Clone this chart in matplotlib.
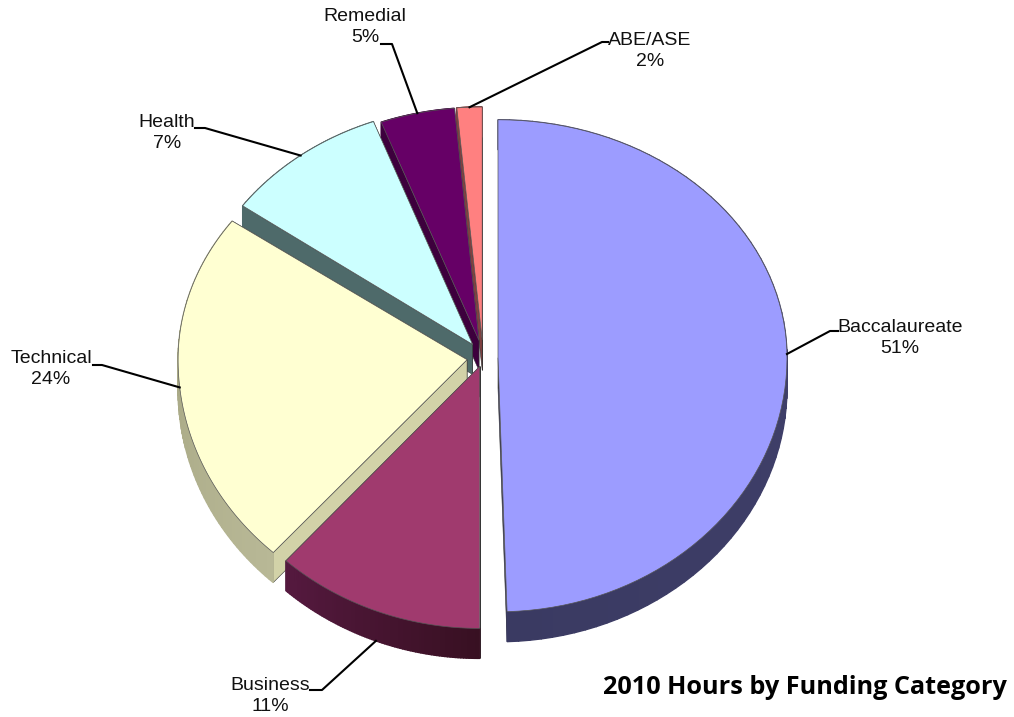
import numpy as np
import matplotlib
matplotlib.use("Agg")
import matplotlib.pyplot as plt

# Dati (fetta disegnata vs etichetta)
categories = ["Baccalaureate", "Business", "Technical", "Health", "Remedial", "ABE/ASE"]
drawn_share = [49.5, 12.2, 23.2, 9.4, 4.3, 1.4]
percent_labels = ["51%", "11%", "24%", "7%", "5%", "2%"]

# Stili
top_colors = ["#9c9cff", "#a03a6e", "#ffffd2", "#ccffff", "#660066", "#ff8080"]
cut_colors = ["#3c3c66", "#401028", "#d2d2a8", "#4e6a6a", "#3d003d", "#804040"]
wall_from = ["#444470", "#381022", "#b8b896", "#4e6a6a", "#3d003d", "#804040"]
wall_to = ["#3a3a62", "#55193f", "#a0a07c", "#4e6a6a", "#3d003d", "#804040"]
explode = [15, 9, 16, 17, 18, 18]
start_shift = [0, 1.8, 0, 0, 0, 0]

# Geometria del pie in pixel (la prospettiva cambia i raggi di ogni fetta)
cx, cy = 483, 358
rx = [289, 289, 289, 283, 279, 289]
r_up = [238, 238, 238, 238, 233, 233]
r_down = [254, 262, 260, 260, 260, 260]
depth = 30

# Posizione testo e gomito della linea guida
text_xy = [(900, 338), (270, 696), (51, 369), (167, 133), (365, 27), (650, 51)]
elbow = [[(830, 331), (838, 331)], [(322, 690), (310, 690)], [(102, 365), (93, 365)],
         [(205, 128), (195, 128)], [(392, 44), (381, 44)], [(602, 42), (608, 42)]]


def point(angle, ox, oy, i):
    # angolo in gradi, orario a partire dall'alto
    a = np.radians(angle)
    c = np.cos(a)
    ry = np.where(c > 0, r_up[i], r_down[i])
    return ox + rx[i] * np.sin(a), oy - ry * c


def mix(c1, c2, t):
    c1 = np.array(matplotlib.colors.to_rgb(c1))
    c2 = np.array(matplotlib.colors.to_rgb(c2))
    return c1 + (c2 - c1) * t


plt.rcParams['font.family'] = ['Liberation Sans', 'DejaVu Sans']
fig = plt.figure(figsize=(10.14, 7.17), dpi=100)
ax = fig.add_axes([0, 0, 1, 1])
ax.set_xlim(0, 1014)
ax.set_ylim(717, 0)
ax.set_axis_off()

bounds = np.concatenate([[0], np.cumsum(drawn_share)]) / np.sum(drawn_share) * 360

# Ordine: dal fondo verso il davanti
for i in [5, 4, 3, 2, 1, 0]:
    a0, a1 = bounds[i] + start_shift[i], bounds[i + 1]
    mid = (a0 + a1) / 2
    m = np.radians(mid)
    ox = cx + explode[i] * np.sin(m)
    oy = cy - explode[i] * np.cos(m)
    angles = np.linspace(a0, a1, 80)
    xs, ys = point(angles, ox, oy, i)

    # Pareti radiali (quella visibile per ultima)
    for k in [-1, 0]:
        ax.fill([ox, xs[k], xs[k], ox], [oy, ys[k], ys[k] + depth, oy + depth],
                color=cut_colors[i], ec="#333333", lw=0.4, zorder=i * -3 + 20)
    # Parete esterna a strisce per la sfumatura
    for j in range(len(angles) - 1):
        t = j / (len(angles) - 2)
        ax.fill([xs[j], xs[j + 1], xs[j + 1], xs[j]],
                [ys[j], ys[j + 1], ys[j + 1] + depth, ys[j] + depth],
                color=mix(wall_from[i], wall_to[i], t), lw=1.0, zorder=i * -3 + 20)
    # Faccia superiore
    ax.fill(np.r_[ox, xs], np.r_[oy, ys], fc=top_colors[i], ec="#555555", lw=0.5,
            zorder=i * -3 + 21)

    # Linea guida dal centro dell'arco
    px, py = point(mid, ox, oy, i)
    if np.cos(m) < -0.5:
        py = py + depth
    lx = [px] + [p[0] for p in elbow[i]]
    ly = [py] + [p[1] for p in elbow[i]]
    ax.plot(lx, ly, color="black", lw=1.5, zorder=30)
    ax.text(text_xy[i][0], text_xy[i][1], categories[i] + "\n" + percent_labels[i],
            ha="center", va="center", fontsize=14, color="#111111", linespacing=1.35, zorder=31)

ax.text(1007, 688, "2010 Hours by Funding Category", ha="right", va="center",
        fontsize=18.2, fontweight="bold", family=["Open Sans", "DejaVu Sans"], color="black")

fig.savefig("out.png", dpi=100)
